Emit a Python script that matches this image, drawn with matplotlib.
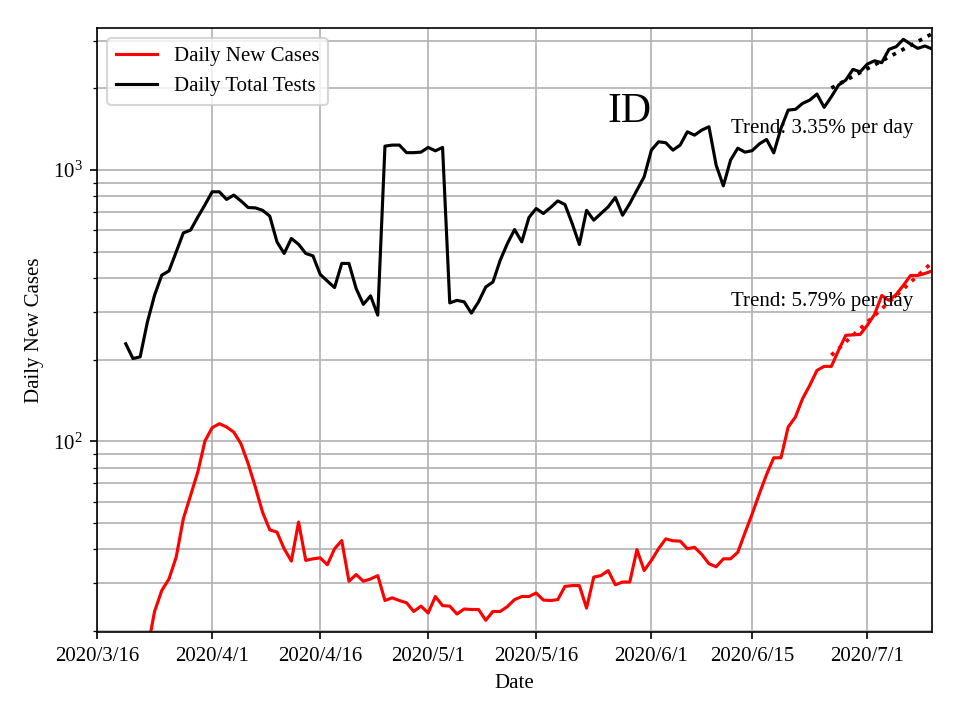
import numpy as np
import matplotlib
matplotlib.use("Agg")
import matplotlib.pyplot as plt
import matplotlib.dates as mdates
import datetime as dt

plt.rcParams['font.family'] = ['Liberation Serif', 'DejaVu Serif']
plt.rcParams['mathtext.fontset'] = 'custom'
plt.rcParams['mathtext.rm'] = 'Liberation Serif'
plt.rcParams['mathtext.it'] = 'Liberation Serif:italic'
plt.rcParams['mathtext.bf'] = 'Liberation Serif:bold'

start_date = dt.date(2020, 3, 16)

# Daily total tests, starting 2020/3/20 (day 4)
tests_start_day = 4
tests = [229, 202, 205, 275, 346, 410, 425, 499, 587, 601,
         671, 745, 832, 832, 780, 809, 770, 728, 726, 711,
         677, 544, 493, 560, 533, 493, 483, 413, 390, 369,
         453, 453, 366, 320, 344, 292, 1226, 1237, 1237, 1160,
         1160, 1165, 1213, 1178, 1213, 324, 331, 327, 297, 327,
         371, 387, 465, 536, 604, 544, 669, 722, 692, 728,
         770, 747, 636, 532, 711, 654, 692, 732, 793, 682,
         753, 844, 945, 1185, 1272, 1262, 1185, 1237, 1385, 1346,
         1405, 1445, 1043, 875, 1089, 1205, 1165, 1180, 1250, 1298,
         1158, 1425, 1665, 1675, 1762, 1813, 1908, 1704, 1865, 2059,
         2148, 2352, 2305, 2460, 2531, 2490, 2788, 2852, 3036, 2917,
         2812, 2869, 2796]

# Daily new cases, starting 2020/3/22 (day 6)
cases_start_day = 6
cases = [14, 17, 23.6, 28.2, 31.1, 37.4, 51.9, 63.2, 77.0, 100.3,
         112.3, 116.2, 113, 108.2, 98, 82.8, 67.8, 54.8, 47.2, 46.3,
         40.2, 36.2, 50.4, 36.4, 36.9, 37.2, 35.1, 40.2, 43.1, 30.5,
         32.3, 30.5, 31.1, 32.0, 25.9, 26.5, 25.9, 25.4, 23.6, 24.7,
         23.3, 26.8, 24.8, 24.7, 23.1, 24.1, 24.0, 24.0, 21.9, 23.6,
         23.6, 24.6, 26.1, 26.8, 26.8, 27.6, 26.0, 25.9, 26.1, 29.2,
         29.4, 29.4, 24.3, 31.6, 32.0, 33.4, 29.6, 30.3, 30.3, 39.9,
         33.4, 36.4, 40.2, 43.7, 43.0, 42.9, 40.2, 40.7, 38.3, 35.4,
         34.5, 36.9, 36.9, 39.0, 46.0, 54.0, 64.1, 75.5, 87.0, 87.0,
         112.9, 122.9, 143.7, 160.9, 182.7, 189, 189, 216.7, 246, 247,
         248, 268, 294, 345, 331, 348, 376, 409, 409, 416, 425]

tests_trend_rate = 3.35   # % per day
cases_trend_rate = 5.79   # % per day
trend_days = 15

tick_labels = ["2020/3/16", "2020/4/1", "2020/4/16", "2020/5/1",
               "2020/5/16", "2020/6/1", "2020/6/15", "2020/7/1"]
tick_dates = [dt.datetime.strptime(s, "%Y/%m/%d") for s in tick_labels]

def dates_for(first_day, n):
    return [dt.datetime.combine(start_date, dt.time()) + dt.timedelta(days=first_day + i)
            for i in range(n)]

tests_dates = dates_for(tests_start_day, len(tests))
cases_dates = dates_for(cases_start_day, len(cases))

def trend(dates, vals, rate, n):
    d = mdates.date2num(dates[-n:])
    y = np.log(np.array(vals[-n:], dtype=float))
    slope = np.log(1 + rate / 100.0)
    intercept = y.mean() - slope * d.mean()
    return dates[-n:], np.exp(intercept + slope * d)

fig = plt.figure(figsize=(6.4, 4.8), dpi=150)
ax = fig.add_axes([0.101, 0.122, 0.870, 0.839])

ax.plot(cases_dates, cases, color='red', lw=1.5, label='Daily New Cases')
ax.plot(tests_dates, tests, color='black', lw=1.5, label='Daily Total Tests')

td, tv = trend(tests_dates, tests, tests_trend_rate, trend_days)
ax.plot(td, tv, color='black', ls=':', lw=1.8)
cd, cv = trend(cases_dates, cases, cases_trend_rate, trend_days)
ax.plot(cd, cv, color='red', ls=':', lw=1.8)

ax.set_yscale('log')
ax.set_ylim(19.8, 3340)
ax.set_xlim(dt.datetime(2020, 3, 16), dt.datetime(2020, 7, 10))
ax.set_xticks(tick_dates)
ax.set_xticklabels(tick_labels)

ax.grid(True, which='major', axis='x', color='#b0b0b0', lw=0.8)
ax.grid(True, which='both', axis='y', color='#b0b0b0', lw=0.8)
ax.set_axisbelow(True)

ax.set_xlabel('Date', fontsize=10)
ax.set_ylabel('Daily New Cases', fontsize=10)
ax.tick_params(labelsize=10)

ax.text(0.638, 0.862, 'ID', transform=ax.transAxes, fontsize=20,
        ha='center', va='center')
ax.text(0.977, 0.833, 'Trend: %.2f%% per day' % tests_trend_rate,
        transform=ax.transAxes, fontsize=10, ha='right', va='center')
ax.text(0.977, 0.548, 'Trend: %.2f%% per day' % cases_trend_rate,
        transform=ax.transAxes, fontsize=10, ha='right', va='center')

ax.legend(loc='upper left', fontsize=10)

fig.savefig('out.png', dpi=150)
